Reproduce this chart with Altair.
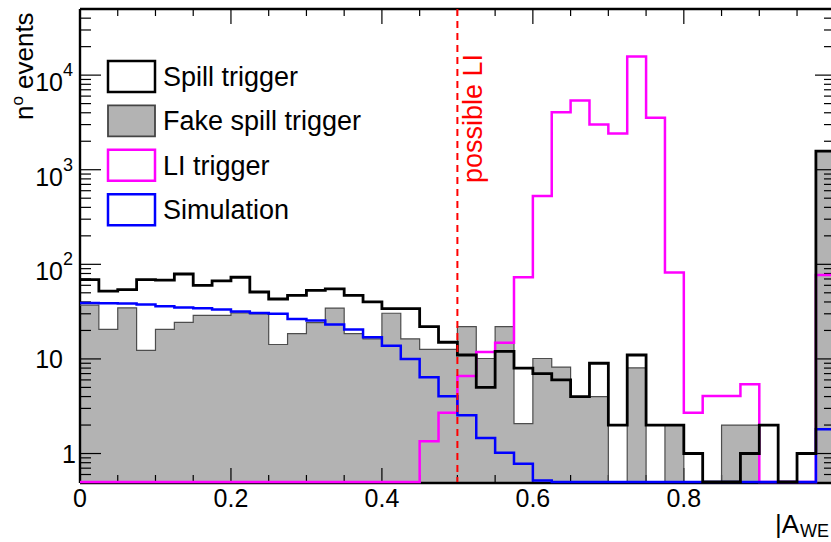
import altair as alt
import pandas as pd

# |A_WE| histogram: 40 bins of width 0.025 on [0, 1]
BIN_WIDTH = 0.025
N_BINS = 40
BIN_LOW = [round(i * BIN_WIDTH, 3) for i in range(N_BINS)]
X_UPPER = 1.0

SPILL = [69, 52, 54, 69, 68, 79, 60, 67, 73, 51,
         43, 47, 53, 55, 47, 40, 34, 34, 22, 15,
         11, 5, 12, 8, 7, 6, 4, 9, 2, 11,
         2, 2, 1, 0, 0, 1, 2, 0, 1, 1570]
FAKE = [37, 20.5, 34.7, 12.3, 20.5, 24.4, 28.8, 28.8, 30.6, 29.9,
        14.2, 18.5, 24.2, 34.5, 18.5, 16.3, 30.4, 16.3, 12.6, 12.6,
        22, 10.1, 22, 2.07, 10.1, 8.2, 4.0, 4.0, 0, 8.05,
        0, 2, 0, 0, 2, 2, 0, 0, 0, 1570]
LI = [0, 0, 0, 0, 0, 0, 0, 0, 0, 0,
      0, 0, 0, 0, 0, 0, 0, 0, 1.35, 2.7,
      6.6, 11.8, 14.8, 73, 526, 4040, 5390, 3010, 2415, 15700,
      3550, 82, 2.7, 4.05, 4.05, 5.4, 0, 0, 0, 77]
SIM = [39, 38.8, 38.5, 37.6, 36, 35, 34.4, 33.3, 31.7, 30.6,
       30, 26.5, 25.5, 23.1, 20.5, 16.9, 13.8, 10, 6.4, 4.04,
       2.54, 1.46, 1.02, 0.78, 0.52, 0, 0, 0, 0, 0,
       0, 0, 0, 0, 0, 0, 0, 0, 0, 1.8]

CUT_VALUE = 0.5  # "possible LI" threshold

LEGEND_LABELS = ["Spill trigger", "Fake spill trigger", "LI trigger", "Simulation"]

# Axis ticks and labels
X_MAJOR = [0.0, 0.2, 0.4, 0.6, 0.8]
X_MAJOR_LABELS = ["0", "0.2", "0.4", "0.6", "0.8"]
X_MINOR = [0.05, 0.1, 0.15, 0.25, 0.3, 0.35, 0.45, 0.5, 0.55,
           0.65, 0.7, 0.75, 0.85, 0.9, 0.95]
Y_MAJOR = [1, 10, 100, 1000, 10000]
Y_MAJOR_BASE = ["1", "10", "10", "10", "10"]
Y_MAJOR_EXP = ["", "", "2", "3", "4"]
Y_MINOR = [0.6, 0.7, 0.8, 0.9,
           2, 3, 4, 5, 6, 7, 8, 9,
           20, 30, 40, 50, 60, 70, 80, 90,
           200, 300, 400, 500, 600, 700, 800, 900,
           2000, 3000, 4000, 5000, 6000, 7000, 8000, 9000,
           20000, 30000, 40000]

# Layout
W, H = 751, 473
X_MAX = 0.995
Y_MIN, Y_MAX = 0.5, 5e4
FONT = "Liberation Sans"
FS = 27
GRAY = "#b3b3b3"
MAGENTA = "#ff00ff"
BLUE = "#0000ff"

xs = alt.Scale(domain=[0, X_MAX], nice=False, zero=False, clamp=True)
ys = alt.Scale(type="log", domain=[Y_MIN, Y_MAX], nice=False, clamp=True)

ONE = pd.DataFrame({"k": [0]})


def steps(values):
    rows = [{"x": x, "n": v} for x, v in zip(BIN_LOW, values)]
    rows.append({"x": X_UPPER, "n": values[-1]})
    return pd.DataFrame(rows)


def hist_line(values, color, width):
    return (
        alt.Chart(steps(values))
        .transform_calculate(y=f"max(datum.n, {Y_MIN})")
        .mark_line(interpolate="step-after", color=color, strokeWidth=width)
        .encode(x=alt.X("x:Q", scale=xs, axis=None),
                y=alt.Y("y:Q", scale=ys, axis=None))
    )


fake_area = (
    alt.Chart(steps(FAKE))
    .transform_calculate(y=f"max(datum.n, {Y_MIN})", lo=f"{Y_MIN}")
    .mark_area(interpolate="step-after", color=GRAY)
    .encode(x=alt.X("x:Q", scale=xs, axis=None),
            y=alt.Y("y:Q", scale=ys, axis=None),
            y2="lo:Q")
)


def xticks(values, y0, y1):
    return (
        alt.Chart(pd.DataFrame({"v": values}))
        .mark_rule(color="black", strokeWidth=1.2)
        .encode(x=alt.X("v:Q", scale=xs, axis=None),
                y=alt.value(y0), y2=alt.value(y1))
    )


def yticks(values, x0, x1):
    return (
        alt.Chart(pd.DataFrame({"v": values}))
        .mark_rule(color="black", strokeWidth=1.2)
        .encode(y=alt.Y("v:Q", scale=ys, axis=None),
                x=alt.value(x0), x2=alt.value(x1))
    )


def frame_line(**enc):
    return alt.Chart(ONE).mark_rule(color="black", strokeWidth=2.4).encode(**enc)


frame = [
    frame_line(x=alt.value(0), y=alt.value(0), y2=alt.value(H + 1)),
    frame_line(x=alt.value(0), x2=alt.value(W), y=alt.value(H + 1)),
    frame_line(x=alt.value(0), x2=alt.value(W), y=alt.value(0)),
]

ticks = [
    xticks(X_MAJOR, H, H - 14), xticks(X_MINOR, H, H - 7),
    xticks(X_MAJOR, 0, 15), xticks(X_MINOR, 0, 7),
    yticks(Y_MAJOR, 0, 21), yticks(Y_MINOR, 0, 11),
    yticks(Y_MAJOR, W - 16, W), yticks(Y_MINOR, W - 7, W),
]

# Tick labels
xlab = (
    alt.Chart(pd.DataFrame({"v": X_MAJOR, "t": X_MAJOR_LABELS}))
    .mark_text(font=FONT, fontSize=25, align="center", baseline="alphabetic")
    .encode(x=alt.X("v:Q", scale=xs, axis=None), y=alt.value(H + 25), text="t:N")
)
ydf = pd.DataFrame({"v": Y_MAJOR, "b": Y_MAJOR_BASE, "e": Y_MAJOR_EXP})
ylab_one = (
    alt.Chart(ydf).transform_filter("datum.b == '1'")
    .mark_text(font=FONT, fontSize=25, align="right", baseline="alphabetic", dy=9)
    .encode(y=alt.Y("v:Q", scale=ys, axis=None), x=alt.value(-4), text="b:N")
)
ylab_ten = (
    alt.Chart(ydf).transform_filter("datum.b == '10' && datum.e == ''")
    .mark_text(font=FONT, fontSize=25, align="right", baseline="alphabetic", dy=9)
    .encode(y=alt.Y("v:Q", scale=ys, axis=None), x=alt.value(-17), text="b:N")
)
ylab_pow = (
    alt.Chart(ydf).transform_filter("datum.e != ''")
    .mark_text(font=FONT, fontSize=25, align="right", baseline="alphabetic", dy=16)
    .encode(y=alt.Y("v:Q", scale=ys, axis=None), x=alt.value(-17), text="b:N")
)
ylab_exp = (
    alt.Chart(ydf).transform_filter("datum.e != ''")
    .mark_text(font=FONT, fontSize=18, align="left", baseline="alphabetic", dy=1)
    .encode(y=alt.Y("v:Q", scale=ys, axis=None), x=alt.value(-17), text="e:N")
)


def label(text, x, y, size=FS, color="black", angle=0, align="left", dy=0):
    return (
        alt.Chart(ONE)
        .mark_text(text=text, font=FONT, fontSize=size, color=color, angle=angle,
                   align=align, baseline="alphabetic", dy=dy)
        .encode(x=x, y=y)
    )


# Axis titles
titles = [
    label("n", alt.value(-47), alt.value(111), size=26, angle=270),
    label("o", alt.value(-57), alt.value(96.5), size=17, angle=270),
    label("events", alt.value(-47), alt.value(80), size=26, angle=270),
    label("|A", alt.value(695), alt.value(524), size=26),
    label("WE", alt.value(720), alt.value(528), size=18),
]

# Threshold marker
cut_line = (
    alt.Chart(ONE)
    .mark_rule(color="red", strokeWidth=2, strokeDash=[7, 5])
    .encode(x=alt.X(datum=CUT_VALUE, scale=xs, axis=None),
            y=alt.value(0), y2=alt.value(H))
)
cut_text = (
    alt.Chart(ONE)
    .mark_text(text="possible LI", font=FONT, fontSize=FS, color="red", angle=270,
               align="left", baseline="alphabetic", dy=25)
    .encode(x=alt.X(datum=CUT_VALUE, scale=xs, axis=None), y=alt.value(174))
)

# Legend
legend_style = [
    ("white", "black", 2.5),
    (GRAY, "#444444", 1.8),
    ("white", MAGENTA, 2.5),
    ("white", BLUE, 2.5),
]
legend = []
for i, (name, (fill, stroke, sw)) in enumerate(zip(LEGEND_LABELS, legend_style)):
    cy = 67.5 + 44.4 * i
    legend.append(
        alt.Chart(ONE)
        .mark_rect(fill=fill, stroke=stroke, strokeWidth=sw)
        .encode(x=alt.value(28), x2=alt.value(75),
                y=alt.value(cy - 15.5), y2=alt.value(cy + 15.5))
    )
    legend.append(label(name, alt.value(83), alt.value(cy + 9.5)))

chart = alt.layer(
    fake_area,
    *frame,
    *ticks,
    hist_line(FAKE, "#4d4d4d", 1.2),
    hist_line(LI, MAGENTA, 2.5),
    hist_line(SIM, BLUE, 2.5),
    hist_line(SPILL, "black", 2.8),
    cut_line,
    cut_text,
    xlab, ylab_one, ylab_ten, ylab_pow, ylab_exp,
    *titles,
    *legend,
).properties(
    width=W,
    height=H,
    autosize="none",
    padding={"left": 80, "top": 9, "right": 0, "bottom": 60},
).configure_view(stroke=None)

chart.save("out.html", embed_options={"renderer": "svg", "actions": False})
